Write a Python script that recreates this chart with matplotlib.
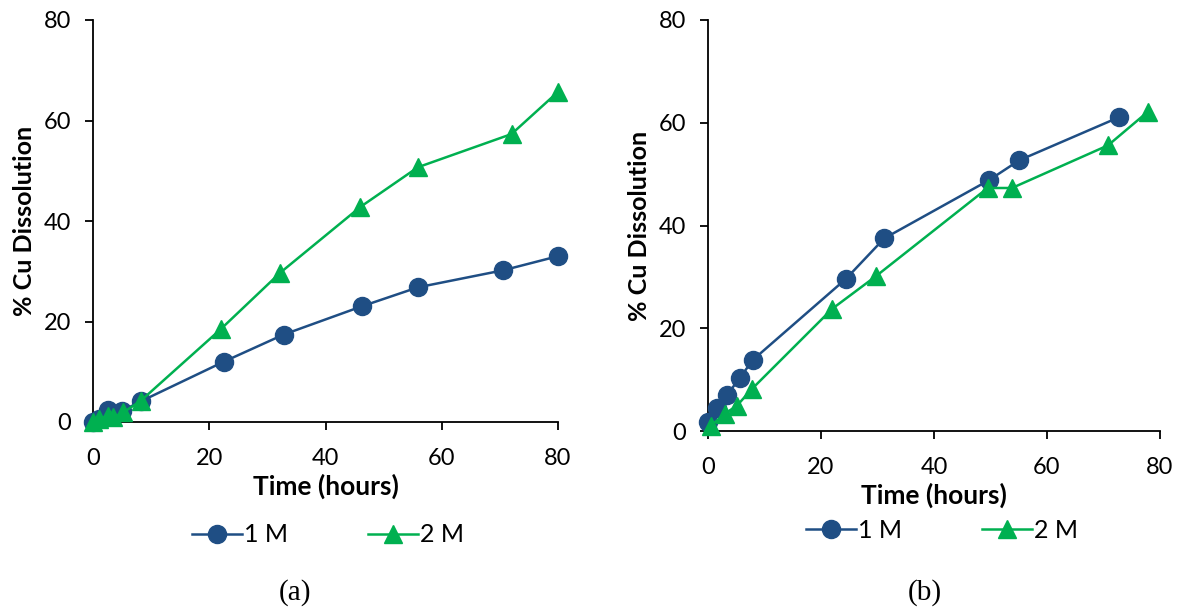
import matplotlib.pyplot as plt

plt.rcParams['font.family'] = ['Lato', 'DejaVu Sans']

# (a) dissolution data
a_time_1m = [0, 1, 2.6, 5, 8.2, 22.5, 32.8, 46.2, 55.9, 70.6, 80]
a_cu_1m = [0, 0.6, 2.4, 2.2, 4.1, 12, 17.4, 23, 26.8, 30.2, 33]
a_time_2m = [0, 1, 2.5, 3.5, 5.2, 8.2, 22, 32.2, 46, 55.9, 72, 80]
a_cu_2m = [0, 0.6, 1.2, 0.9, 1.9, 4.2, 18.5, 29.7, 42.8, 50.7, 57.3, 65.7]

# (b) dissolution data
b_time_1m = [0, 1.6, 3.4, 5.7, 7.9, 24.4, 31.2, 49.7, 55.1, 72.8]
b_cu_1m = [1.8, 4.5, 7.1, 10.4, 13.8, 29.6, 37.5, 48.8, 52.7, 61.1]
b_time_2m = [0.5, 3, 5.1, 7.7, 22, 29.8, 49.5, 53.8, 70.8, 77.8]
b_cu_2m = [1, 3.4, 4.9, 8.1, 23.8, 30.2, 47.3, 47.3, 55.6, 62.1]

blue = '#1F4E84'
green = '#00B050'

fig = plt.figure(figsize=(11.85, 6.10), dpi=100)
ax_a = fig.add_axes([93 / 1185, 1 - 422 / 610, 465 / 1185, 402 / 610])
ax_b = fig.add_axes([708 / 1185, 1 - 431 / 610, 452 / 1185, 411 / 610])

panels = [
    (ax_a, a_time_1m, a_cu_1m, a_time_2m, a_cu_2m, '(a)', (328, 535), 295),
    (ax_b, b_time_1m, b_cu_1m, b_time_2m, b_cu_2m, '(b)', (942, 530), 925),
]

for ax, t1, c1, t2, c2, tag, leg_pos, tag_x in panels:
    ax.plot(t1, c1, color=blue, lw=1.8, marker='o', ms=13, clip_on=False,
            zorder=3, label='1 M')
    ax.plot(t2, c2, color=green, lw=1.8, marker='^', ms=13, clip_on=False,
            zorder=4, label='2 M')
    ax.set_xlim(0, 80)
    ax.set_ylim(0, 80)
    ax.set_xticks(range(0, 81, 20))
    ax.set_yticks(range(0, 81, 20))
    for side in ['top', 'right']:
        ax.spines[side].set_visible(False)
    for side in ['left', 'bottom']:
        ax.spines[side].set_linewidth(1.3)
    ax.tick_params(direction='out', length=6, width=1.3, labelsize=17)
    ax.tick_params(axis='x', pad=13)
    ax.tick_params(axis='y', pad=10)
    ax.set_xlabel('Time (hours)', fontsize=19, fontweight='bold', labelpad=3)
    ax.set_ylabel('% Cu Dissolution', fontsize=18, fontweight='bold', labelpad=5)
    ax.legend(loc='center', bbox_to_anchor=(leg_pos[0] / 1185, 1 - leg_pos[1] / 610),
              bbox_transform=fig.transFigure, ncol=2, frameon=False, fontsize=18,
              columnspacing=3.2, handlelength=2.0, handletextpad=0.1)
    fig.text(tag_x / 1185, 1 - 593 / 610, tag, ha='center', va='center',
             fontsize=21, family='Liberation Serif')

fig.savefig('out.png', dpi=100)
